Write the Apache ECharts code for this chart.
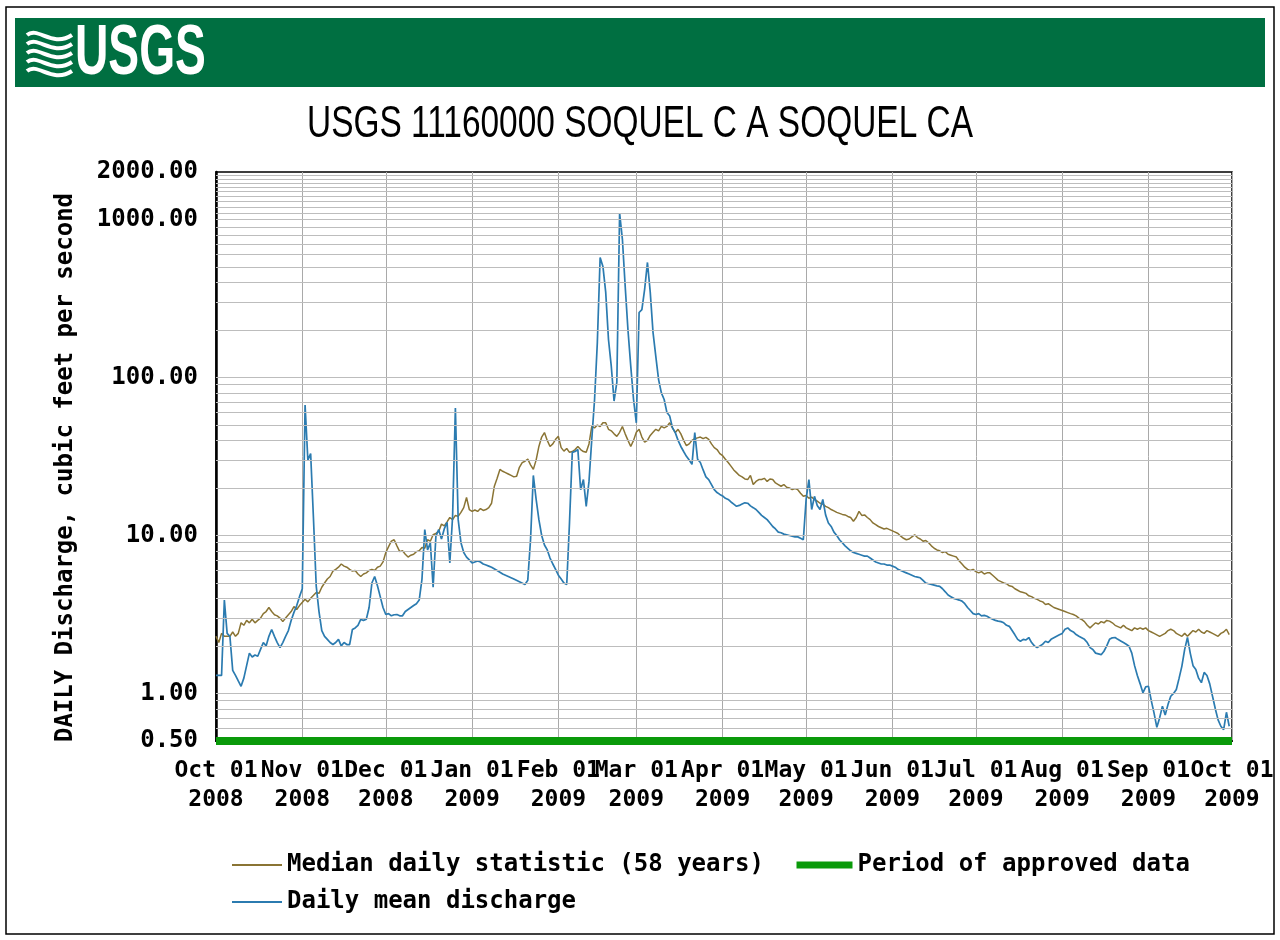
<!DOCTYPE html>
<html><head><meta charset="utf-8">
<script src="https://cdn.jsdelivr.net/npm/echarts@6/dist/echarts.min.js"></script>
<style>html,body{margin:0;padding:0;background:#fff}#c{width:1280px;height:940px}</style>
</head><body><div id="c"></div>
<script>
// ---- text ----
const headerText = 'USGS';
const stationTitle = 'USGS 11160000 SOQUEL C A SOQUEL CA';
const yAxisName = 'DAILY Discharge, cubic feet per second';
const monthNames = ['Jan','Feb','Mar','Apr','May','Jun','Jul','Aug','Sep','Oct','Nov','Dec'];
const seriesNames = ['Median daily statistic (58 years)', 'Daily mean discharge', 'Period of approved data'];

// ---- axis ranges / grid lines ----
const waterYearStart = [2008, 9, 1];   // 1 Oct 2008 (UTC, month 0-based)
const daysOnAxis = 366;                // 1 Oct 2008 .. 1 Oct 2009
const yMin = 0.5, yMax = 2000;
const gridValues = [0.6,0.7,0.8,0.9,1,2,3,4,5,6,7,8,9,10,20,30,40,50,60,70,80,90,100,
  200,300,400,500,600,700,800,900,1000,1100,1200,1300,1400,1500,1600,1700,1800,1900];

// ---- data: [day of water year, cfs] ----
const medianDaily = [[0,2.3],[1,2.1],[2,2.4],[3,2.3],[5,2.3],[6,2.45],[7,2.3],[8,2.4],[9,2.8],[10,2.7],[11,2.9],[12,2.8],[13,2.95],[14,2.8],[15,2.9],[16,3.0],[17,3.2],[18,3.3],[19,3.5],[20,3.3],[21,3.15],[22,3.1],[23,3.0],[24,2.85],[25,3.0],[26,3.15],[27,3.3],[28,3.55],[29,3.4],[30,3.6],[32,3.95],[33,3.8],[34,4.0],[36,4.35],[37,4.3],[38,4.7],[39,5.0],[40,5.3],[41,5.5],[42,5.95],[43,6.1],[44,6.3],[45,6.6],[46,6.4],[47,6.3],[48,6.1],[49,5.95],[50,6.0],[51,5.7],[52,5.5],[53,5.7],[54,5.8],[55,6.0],[56,6.1],[57,6.0],[58,6.3],[59,6.4],[60,6.8],[61,7.8],[62,8.5],[63,9.2],[64,9.4],[65,8.6],[66,7.9],[67,8.0],[68,7.6],[69,7.3],[70,7.5],[71,7.6],[72,7.9],[73,8.0],[74,8.4],[75,8.3],[76,9.4],[77,9.2],[78,10.1],[79,10.3],[80,10.6],[81,11.8],[82,11.5],[83,12.2],[84,13],[85,12.6],[86,13.4],[87,13.2],[88,14],[89,15],[90,17.4],[91,14.6],[92,14.2],[93,14.5],[94,14.2],[95,14.8],[96,14.4],[97,14.6],[98,15],[99,16],[100,20.5],[101,23],[102,26.2],[103,25.5],[104,25],[105,24.5],[106,24],[107,23.5],[108,23.7],[109,27],[110,28.9],[111,29.5],[112,30.4],[113,28],[114,26.2],[115,30],[116,36.6],[117,42],[118,44.8],[119,40],[120,36.6],[121,38],[122,40.6],[123,42.4],[124,36],[125,34.2],[126,35.5],[127,33.6],[128,34],[129,35],[130,36.6],[131,35],[132,34],[133,33.6],[134,38],[135,49],[136,48],[137,50],[138,49],[139,51.7],[140,51.7],[141,47],[142,46],[143,44],[144,42.4],[145,45],[146,49],[147,44],[148,40],[149,36.6],[150,40],[151,45],[152,47],[153,42],[154,39],[155,40],[156,43],[157,45],[158,47],[159,46],[160,49],[161,48],[162,49],[163,51.7],[164,48],[165,44.8],[166,47],[167,44],[168,40],[169,37],[170,38],[171,40],[172,41],[173,41.5],[174,42],[175,41],[176,41.8],[177,40.6],[178,38],[179,36],[180,35],[181,33],[182,32],[183,30.4],[184,29],[185,27.5],[186,26],[187,25],[188,24],[189,23.5],[190,22.8],[191,22.6],[192,24],[193,21],[194,22],[195,22.6],[196,22.6],[197,23],[198,22],[199,22.8],[200,22.6],[201,21.5],[202,21],[203,20.5],[204,21],[205,20.2],[206,20],[207,19.5],[208,19.8],[209,19.5],[210,18.5],[211,17.7],[212,17.9],[213,17.2],[214,17.5],[215,16.9],[216,16.5],[217,16],[218,15.8],[219,15.3],[220,15],[221,14.6],[222,14.3],[223,14],[224,13.8],[225,13.6],[226,13.5],[227,13.2],[228,13],[229,12.3],[230,13],[231,14.2],[232,13.4],[233,13.5],[234,13],[235,12.6],[236,12],[237,11.7],[238,11.4],[239,11.2],[240,11],[241,11.1],[242,10.9],[243,10.7],[244,10.5],[245,10.3],[246,9.9],[247,9.6],[248,9.4],[249,9.5],[250,9.8],[251,10.1],[252,9.7],[253,9.5],[254,9.2],[255,9.3],[256,9.0],[257,8.6],[258,8.3],[259,8.1],[260,8.0],[261,7.8],[262,7.9],[263,7.6],[264,7.5],[265,7.4],[266,7.3],[267,6.9],[268,6.6],[269,6.3],[270,6.1],[271,6.0],[272,6.1],[273,5.9],[274,5.8],[275,5.9],[276,5.7],[277,5.8],[278,5.8],[279,5.6],[280,5.4],[281,5.2],[282,5.1],[283,5.0],[284,4.95],[285,4.8],[286,4.76],[287,4.6],[288,4.5],[289,4.4],[290,4.35],[291,4.3],[292,4.15],[293,4.1],[294,4.0],[295,3.94],[296,3.85],[297,3.8],[298,3.66],[299,3.7],[300,3.6],[301,3.5],[302,3.45],[303,3.4],[304,3.35],[305,3.3],[306,3.25],[307,3.2],[308,3.16],[309,3.1],[310,3.0],[311,2.94],[312,2.85],[313,2.7],[314,2.6],[315,2.7],[316,2.8],[317,2.75],[318,2.85],[319,2.8],[320,2.9],[321,2.87],[322,2.8],[323,2.7],[324,2.65],[325,2.6],[326,2.7],[327,2.6],[328,2.55],[329,2.5],[330,2.6],[331,2.55],[332,2.6],[333,2.55],[334,2.6],[335,2.5],[336,2.45],[337,2.4],[338,2.35],[339,2.3],[340,2.35],[341,2.4],[342,2.5],[343,2.55],[344,2.5],[345,2.4],[346,2.35],[347,2.3],[348,2.4],[349,2.3],[350,2.4],[351,2.5],[352,2.45],[353,2.55],[354,2.45],[355,2.4],[356,2.5],[357,2.45],[358,2.4],[359,2.35],[360,2.3],[361,2.4],[362,2.45],[363,2.55],[364,2.36]];

const dailyMean = [[0,1.3],[1,1.3],[2,1.3],[3,3.9],[4,2.4],[5,2.3],[6,1.4],[7,1.3],[8,1.2],[9,1.11],[10,1.25],[11,1.5],[12,1.8],[13,1.7],[14,1.75],[15,1.72],[16,1.9],[17,2.1],[18,2.0],[19,2.3],[20,2.54],[21,2.3],[22,2.1],[23,1.95],[24,2.1],[25,2.3],[26,2.5],[27,2.9],[28,3.26],[29,3.6],[30,4.1],[31,4.6],[32,67],[33,30],[34,33],[35,13],[36,4.8],[37,3.3],[38,2.5],[39,2.3],[40,2.2],[41,2.1],[42,2.04],[43,2.1],[44,2.2],[45,2.0],[46,2.1],[47,2.04],[48,2.04],[49,2.54],[50,2.6],[51,2.7],[52,2.94],[53,2.9],[54,2.95],[55,3.5],[56,5.0],[57,5.5],[58,4.8],[59,4.1],[60,3.5],[61,3.16],[62,3.2],[63,3.1],[64,3.15],[65,3.16],[66,3.1],[67,3.1],[68,3.3],[69,3.4],[70,3.5],[71,3.6],[72,3.7],[73,3.9],[74,5.3],[75,10.9],[76,8.1],[77,9],[78,4.7],[79,9.9],[80,10.9],[81,9.5],[82,11],[83,12.1],[84,6.7],[85,13.2],[86,64],[87,12.6],[88,9],[89,7.8],[90,7.3],[91,7.0],[92,6.7],[93,6.8],[94,6.9],[95,6.8],[96,6.6],[97,6.5],[98,6.4],[99,6.3],[101,6.0],[103,5.7],[105,5.5],[107,5.3],[109,5.1],[111,4.9],[112,5.2],[113,9.4],[114,24],[115,17],[116,12.6],[117,10],[118,8.7],[119,8.1],[120,7.2],[121,6.6],[122,6.1],[123,5.6],[124,5.3],[125,5.0],[126,4.9],[127,12.1],[128,33.6],[129,34],[130,35],[131,19.5],[132,22.6],[133,15.3],[134,22],[135,40.6],[136,72.6],[137,167],[138,575],[139,505],[140,347],[141,174],[142,118],[143,71],[144,93],[145,1100],[146,750],[147,378],[148,200],[149,118],[150,72.6],[151,51.7],[152,258],[153,269],[154,363],[155,535],[156,347],[157,193],[158,136],[159,97],[160,80],[161,72.6],[162,60],[163,57],[164,48],[165,44.8],[166,40],[167,36.6],[168,34],[169,31.7],[170,30],[171,28.2],[172,44.8],[173,30.4],[174,29],[175,26],[176,23.5],[177,22.6],[178,21],[179,19.5],[180,18.7],[181,18.2],[182,17.8],[183,17.2],[184,16.9],[185,16.3],[186,15.8],[187,15.3],[188,15.5],[189,15.8],[190,16.1],[191,16.0],[192,15.4],[193,15],[194,14.6],[195,14.0],[196,13.4],[197,13],[198,12.6],[199,12],[200,11.4],[201,11],[202,10.5],[203,10.4],[204,10.2],[205,10.1],[206,10],[207,9.9],[208,9.8],[209,9.8],[210,9.6],[211,9.4],[212,16.9],[213,22.6],[214,14.6],[215,17.7],[216,15.5],[217,14.6],[218,16.9],[219,13.5],[220,12],[221,11.4],[222,10.5],[223,10],[224,9.4],[225,9.0],[226,8.6],[227,8.3],[228,8.0],[229,7.8],[230,7.7],[231,7.6],[232,7.5],[233,7.4],[234,7.4],[235,7.2],[236,7.0],[237,6.8],[238,6.7],[239,6.6],[240,6.6],[241,6.5],[242,6.5],[243,6.4],[244,6.3],[245,6.1],[246,6.0],[247,5.9],[248,5.8],[249,5.7],[250,5.6],[251,5.5],[252,5.45],[253,5.4],[254,5.2],[255,5.0],[256,4.95],[257,4.9],[258,4.85],[259,4.8],[260,4.76],[261,4.6],[262,4.4],[263,4.2],[264,4.1],[265,4.0],[266,3.95],[267,3.9],[268,3.84],[269,3.7],[270,3.5],[271,3.35],[272,3.2],[273,3.16],[274,3.2],[275,3.1],[276,3.12],[277,3.08],[278,3.0],[279,2.95],[280,2.9],[281,2.87],[282,2.85],[283,2.8],[284,2.7],[285,2.66],[286,2.5],[287,2.35],[288,2.2],[289,2.14],[290,2.2],[291,2.18],[292,2.26],[293,2.1],[294,2.0],[295,1.95],[296,2.0],[297,2.05],[298,2.14],[299,2.1],[300,2.2],[301,2.25],[302,2.3],[303,2.35],[304,2.4],[305,2.55],[306,2.6],[307,2.5],[308,2.45],[309,2.36],[310,2.3],[311,2.25],[312,2.2],[313,2.1],[314,1.95],[315,1.9],[316,1.8],[317,1.78],[318,1.76],[319,1.85],[320,2.0],[321,2.2],[322,2.25],[323,2.26],[324,2.2],[325,2.15],[326,2.1],[327,2.05],[328,1.99],[329,1.8],[330,1.5],[331,1.3],[332,1.15],[333,1.01],[334,1.1],[335,1.11],[336,0.9],[337,0.75],[338,0.61],[339,0.7],[340,0.83],[341,0.73],[342,0.85],[343,0.96],[344,1.0],[345,1.06],[346,1.25],[347,1.49],[348,1.9],[349,2.26],[350,1.8],[351,1.5],[352,1.42],[353,1.25],[354,1.17],[355,1.36],[356,1.3],[357,1.15],[358,0.96],[359,0.8],[360,0.68],[361,0.62],[362,0.59],[363,0.76],[364,0.62]];

const approvedPeriod = [[0,0.5],[365,0.5]];

// ---- build category axis (one category per day) ----
const dayCats = [];
const t0 = Date.UTC(waterYearStart[0], waterYearStart[1], waterYearStart[2]);
for (let d = 0; d < daysOnAxis; d++) dayCats.push(new Date(t0 + d * 86400000).toISOString().slice(0, 10));
const isMonthStart = (i, v) => String(v).slice(8) === '01';

const MONO = '"DejaVu Sans Mono", "Liberation Mono", monospace';
const SANS = '"Liberation Sans", Arial, sans-serif';
const labelFont = { fontFamily: MONO, fontWeight: 'bold', fontSize: 24, color: '#000' };
const xLabelFont = { fontFamily: MONO, fontWeight: 'bold', fontSize: 23, color: '#000' };

const waves = [0, 1, 2, 3, 4].map(k => ({
  type: 'bezierCurve', z: 2,
  shape: { x1: 27, y1: 35 + k * 9, cpx1: 38, cpy1: 26 + k * 9, cpx2: 52, cpy2: 48 + k * 9, x2: 72, y2: 35 + k * 9 },
  style: { fill: 'none', stroke: '#fff', lineWidth: 4 }
}));

const legendBase = { selectedMode: false, textStyle: labelFont, itemStyle: { opacity: 0 } };

const chart = echarts.init(document.getElementById('c'), null, { renderer: 'canvas' });
chart.setOption({
  animation: false,
  backgroundColor: '#fff',
  grid: { left: 216, right: 48, top: 172, bottom: 199, show: true, borderColor: '#000', borderWidth: 1.5 },
  xAxis: {
    type: 'category', data: dayCats, boundaryGap: false,
    axisLine: { show: true, lineStyle: { color: '#000', width: 2 } },
    axisTick: { show: false },
    axisLabel: Object.assign({
      interval: isMonthStart, margin: 16, lineHeight: 29,
      formatter: v => monthNames[+String(v).slice(5, 7) - 1] + ' 01\n' + String(v).slice(0, 4)
    }, xLabelFont),
    splitLine: { show: true, interval: isMonthStart, lineStyle: { color: '#a9a9a9', width: 1 } }
  },
  yAxis: {
    type: 'log', logBase: 10, min: yMin, max: yMax,
    axisLine: { show: true, lineStyle: { color: '#000', width: 2.5 } },
    axisTick: { show: false },
    splitLine: { show: false },
    axisLabel: Object.assign({ margin: 18, formatter: v => Number(v).toFixed(2) }, labelFont),
    name: yAxisName, nameLocation: 'middle', nameGap: 138, nameRotate: 90,
    nameTextStyle: Object.assign({ padding: [0, 22, 0, 0] }, labelFont)
  },
  legend: [
    Object.assign({ left: 226, top: 848, itemWidth: 50, itemHeight: 12, data: [seriesNames[0]] }, legendBase),
    Object.assign({ left: 788, top: 848, itemWidth: 56, itemHeight: 14, data: [seriesNames[2]], lineStyle: { width: 7 } }, legendBase),
    Object.assign({ left: 226, top: 885, itemWidth: 50, itemHeight: 12, data: [seriesNames[1]] }, legendBase)
  ],
  series: [
    { name: 'grid', type: 'line', data: [], z: 1, silent: true,
      markLine: { silent: true, symbol: ['none', 'none'], label: { show: false },
        lineStyle: { color: '#bdbdbd', width: 1, type: 'solid' },
        data: gridValues.map(v => ({ yAxis: v })) } },
    { name: seriesNames[0], type: 'line', data: medianDaily, symbol: 'none', z: 3,
      lineStyle: { color: '#8a7434', width: 1.5 }, itemStyle: { color: '#8a7434' } },
    { name: seriesNames[1], type: 'line', data: dailyMean, symbol: 'none', z: 4,
      lineStyle: { color: '#2b7bb0', width: 1.7 }, itemStyle: { color: '#2b7bb0' } },
    { name: seriesNames[2], type: 'line', data: approvedPeriod, symbol: 'none', z: 5,
      lineStyle: { color: '#0a9a0a', width: 8 }, itemStyle: { color: '#0a9a0a' } }
  ],
  graphic: [
    { type: 'rect', z: 0, shape: { x: 6, y: 7, width: 1268, height: 927 },
      style: { fill: 'none', stroke: '#000', lineWidth: 1.5 } },
    { type: 'rect', z: 1, shape: { x: 15, y: 18, width: 1250, height: 69 }, style: { fill: '#006f41' } }
  ].concat(waves).concat([
    { type: 'text', z: 2, x: 75, y: 55, scaleX: 0.66,
      style: { text: headerText, fill: '#fff', font: 'bold 70px ' + SANS, align: 'left', verticalAlign: 'middle' } },
    { type: 'text', z: 2, x: 640, y: 125, scaleX: 0.76,
      style: { text: stationTitle, fill: '#000', font: 'normal 44px ' + SANS, align: 'center', verticalAlign: 'middle' } }
  ])
});
</script>
</body></html>
